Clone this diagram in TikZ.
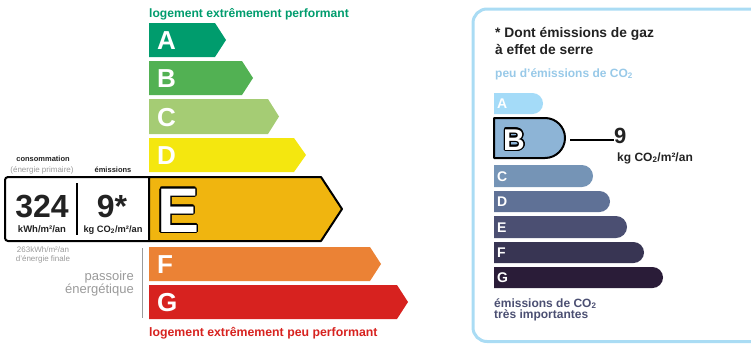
\documentclass[tikz,border=0pt]{standalone}
\usepackage{fontspec}
\setmainfont{Liberation Sans}
\usepackage{contour}
\contourlength{1.3pt}
\definecolor{clsA}{HTML}{009C6D}
\definecolor{clsB}{HTML}{52B153}
\definecolor{clsC}{HTML}{A5CC74}
\definecolor{clsD}{HTML}{F4E70F}
\definecolor{clsE}{HTML}{F0B50F}
\definecolor{clsF}{HTML}{EB8235}
\definecolor{clsG}{HTML}{D7221F}
\definecolor{gesA}{HTML}{A4DBF8}
\definecolor{gesB}{HTML}{8DB4D6}
\definecolor{gesC}{HTML}{7594B6}
\definecolor{gesD}{HTML}{5F7196}
\definecolor{gesE}{HTML}{4B4F72}
\definecolor{gesF}{HTML}{383553}
\definecolor{gesG}{HTML}{2A1C38}
\definecolor{cadre}{HTML}{AADCF4}
\definecolor{gris}{HTML}{9A9A9A}
\definecolor{encre}{HTML}{222222}
\begin{document}
\begin{tikzpicture}[x=1pt, y=-1pt,
	lettre/.style={text=white, anchor=base west, inner sep=0pt, font=\fontsize{26}{26}\selectfont\bfseries},
	lettreges/.style={text=white, anchor=base west, inner sep=0pt, font=\fontsize{14}{14}\selectfont\bfseries},
	petit/.style={inner sep=0pt, anchor=base, font=\fontsize{7.5}{8}\selectfont\bfseries},
	titre/.style={inner sep=0pt, anchor=base west, font=\fontsize{12.1}{13}\selectfont\bfseries}]
	\useasboundingbox (0, 0) rectangle (751, 343);
	% etiquette energie
	\node[titre, text=clsA] (haut) at (149, 17) {logement extrêmement performant};
	\fill[clsA] (149, 23) -- (215, 23) -- (226, 40) -- (215, 57) -- (149, 57) -- cycle;
	\fill[clsB] (149, 61) -- (242, 61) -- (253, 78) -- (242, 95) -- (149, 95) -- cycle;
	\fill[clsC] (149, 99) -- (268, 99) -- (279, 116.5) -- (268, 134) -- (149, 134) -- cycle;
	\fill[clsD] (149, 138) -- (294, 138) -- (306, 155) -- (294, 172) -- (149, 172) -- cycle;
	\draw[fill=clsE, line width=2pt, line join=round] (149, 177) -- (321, 177) -- (342, 209) -- (321, 241) -- (149, 241) -- cycle;
	\fill[clsF] (149, 247) -- (370, 247) -- (381, 264) -- (370, 281) -- (149, 281) -- cycle;
	\fill[clsG] (149, 285) -- (397, 285) -- (408, 302) -- (397, 319) -- (149, 319) -- cycle;
	\node[lettre] (lA) at (157, 49.5) {A};
	\node[lettre] (lB) at (157, 87.5) {B};
	\node[lettre] (lC) at (157, 126) {C};
	\node[lettre] (lD) at (157, 164.5) {D};
	\node[lettre, font=\fontsize{63}{63}\selectfont\bfseries] (lE) at (157, 232) {\contour{black}{E}};
	\node[lettre] (lF) at (157, 273.5) {F};
	\node[lettre] (lG) at (157, 311.5) {G};
	\node[titre, font=\fontsize{12.3}{13}\selectfont\bfseries, text=clsG] (bas) at (149, 336) {logement extrêmement peu performant};
	% valeurs du logement
	\draw[line width=2pt, rounded corners=3pt] (149, 177) -- (5, 177) -- (5, 241) -- (149, 241);
	\draw[line width=1.5pt] (77, 183) -- (77, 235);
	\node[petit, text=encre] (conso) at (43, 161) {consommation};
	\node[petit, text=gris, font=\fontsize{8}{8}\selectfont] (primaire) at (42, 172) {(énergie primaire)};
	\node[petit, text=encre] (emis) at (113, 172) {émissions};
	\node[inner sep=0pt, anchor=base, font=\fontsize{32}{32}\selectfont\bfseries, text=encre] (val) at (42, 217) {324};
	\node[inner sep=0pt, anchor=base, font=\fontsize{32}{32}\selectfont\bfseries, text=encre] (valges) at (112, 217) {9*};
	\node[inner sep=0pt, anchor=base, font=\fontsize{9.5}{10}\selectfont\bfseries, text=encre] (unite) at (42, 232) {kWh/m²/an};
	\node[inner sep=0pt, anchor=base, font=\fontsize{9.3}{10}\selectfont\bfseries, text=encre] (uniteges) at (113, 232) {kg CO\textsubscript{2}/m²/an};
	\node[petit, text=gris, font=\fontsize{8}{8}\selectfont] (finale) at (43, 252) {263kWh/m²/an};
	\node[petit, text=gris, font=\fontsize{8}{8}\selectfont] (finale2) at (43, 261) {d'énergie finale};
	\node[inner sep=0pt, anchor=base east, align=right, text=gris, font=\fontsize{13}{10.5}\selectfont] (passoire) at (134, 293.5) {passoire\\énergétique};
	\draw[gris, line width=1pt] (142, 248) -- (142, 318);
	% encadre gaz a effet de serre
	\draw[cadre, line width=3pt, rounded corners=14pt] (473, 9) rectangle (800, 341.5);
	\node[inner sep=0pt, anchor=base west, align=left, text=encre, font=\fontsize{13.8}{17}\selectfont\bfseries] (dont) at (495, 54) {* Dont émissions de gaz\\à effet de serre};
	\node[inner sep=0pt, anchor=base west, text=gesA!75!gesC, font=\fontsize{12}{12}\selectfont\bfseries] (peu) at (495, 77) {peu d'émissions de CO\textsubscript{2}};
	\fill[gesA] (494, 93) -- (532.5, 93) arc[start angle=-90, end angle=90, radius=10.5] -- (494, 114) -- cycle;
	\draw[fill=gesB, line width=2pt, line join=round] (494, 118) -- (545, 118) arc[start angle=-90, end angle=90, radius=20] -- (494, 158) -- cycle;
	\fill[gesC] (494, 165) -- (582, 165) arc[start angle=-90, end angle=90, radius=11] -- (494, 187) -- cycle;
	\fill[gesD] (494, 191) -- (599.5, 191) arc[start angle=-90, end angle=90, radius=10.5] -- (494, 212) -- cycle;
	\fill[gesE] (494, 216) -- (616, 216) arc[start angle=-90, end angle=90, radius=11] -- (494, 238) -- cycle;
	\fill[gesF] (494, 242) -- (633.5, 242) arc[start angle=-90, end angle=90, radius=10.5] -- (494, 263) -- cycle;
	\fill[gesG] (494, 267) -- (652.5, 267) arc[start angle=-90, end angle=90, radius=10.5] -- (494, 288) -- cycle;
	\node[lettreges] (gA) at (497, 108.5) {A};
	\node[lettreges, font=\fontsize{30}{30}\selectfont\bfseries] (gB) at (503, 150) {\contour{black}{B}};
	\node[lettreges] (gC) at (497, 181) {C};
	\node[lettreges] (gD) at (497, 206.5) {D};
	\node[lettreges] (gE) at (497, 232) {E};
	\node[lettreges] (gF) at (497, 257.5) {F};
	\node[lettreges] (gG) at (497, 282.5) {G};
	\coordinate (bout) at (570, 140);
	\node[inner sep=0pt, anchor=base west, text=encre, font=\fontsize{22}{22}\selectfont\bfseries] (neuf) at (614, 143.5) {9};
	\draw[line width=2pt] (bout) -- (neuf.west |- bout);
	\node[inner sep=0pt, anchor=base west, text=encre, font=\fontsize{12}{12}\selectfont\bfseries] (kg) at (617, 161) {kg CO\textsubscript{2}/m²/an};
	\node[inner sep=0pt, anchor=base west, align=left, text=gesE, font=\fontsize{12}{11}\selectfont\bfseries] (tres) at (494, 318) {émissions de CO\textsubscript{2}\\très importantes};
\end{tikzpicture}
\end{document}
